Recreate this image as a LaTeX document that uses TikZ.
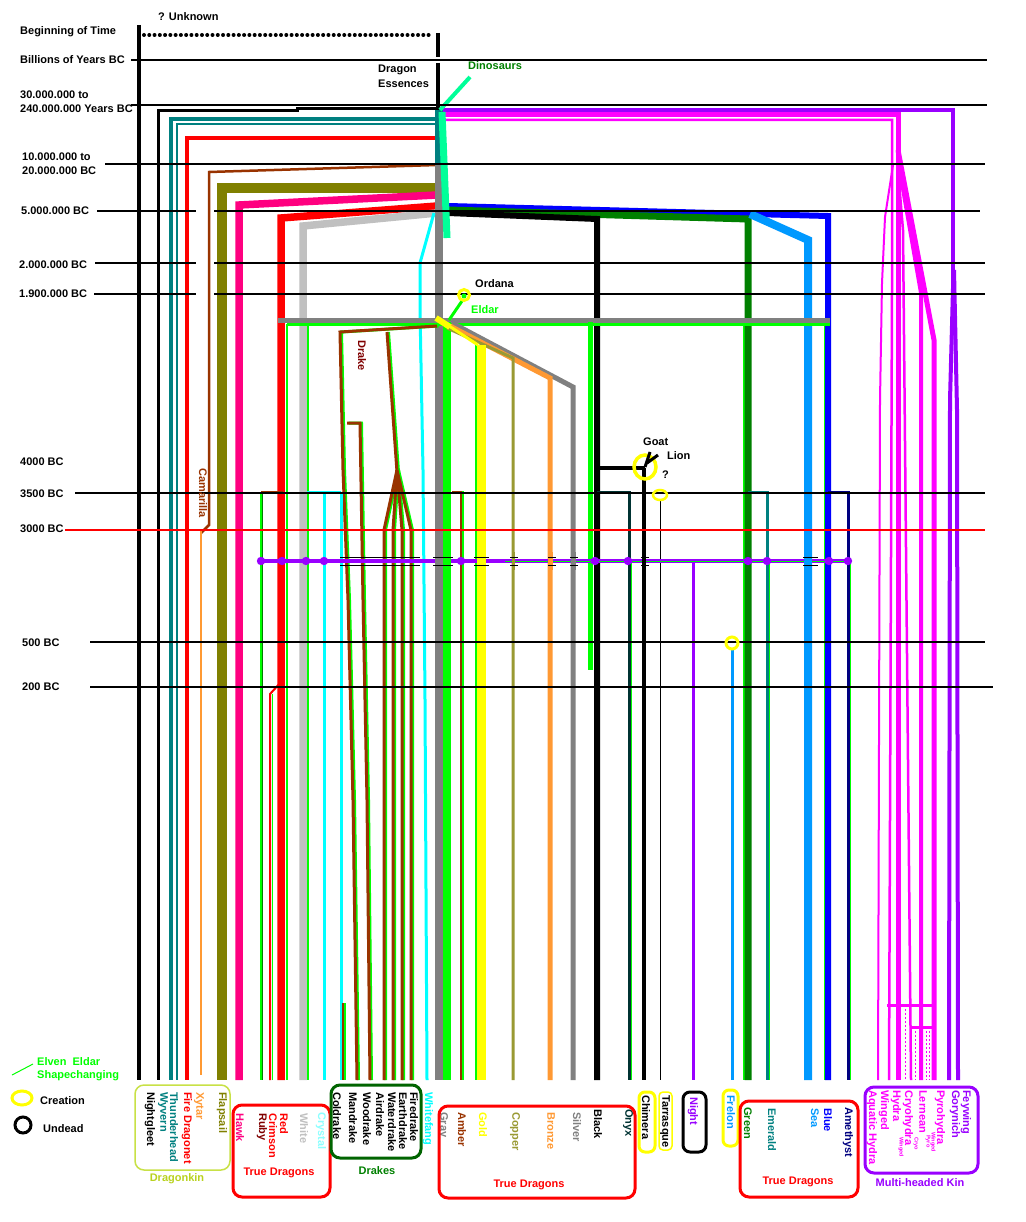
\documentclass[tikz,border=0pt]{standalone}
\usepackage{fontspec}
\setmainfont{Liberation Sans}
\definecolor{cTeal}{RGB}{0,128,128}
\definecolor{cRed}{RGB}{255,0,0}
\definecolor{cBrown}{RGB}{153,51,0}
\definecolor{cMaroon}{RGB}{128,0,0}
\definecolor{cOlive}{RGB}{128,128,0}
\definecolor{cPink}{RGB}{255,0,128}
\definecolor{cSilver}{RGB}{192,192,192}
\definecolor{cCyan}{RGB}{0,255,255}
\definecolor{cLCyan}{RGB}{140,255,255}
\definecolor{cGray}{RGB}{128,128,128}
\definecolor{cLime}{RGB}{0,255,0}
\definecolor{cDino}{RGB}{0,255,153}
\definecolor{cBlue}{RGB}{0,0,255}
\definecolor{cDkGreen}{RGB}{0,128,0}
\definecolor{cDrk}{RGB}{0,100,0}
\definecolor{cSky}{RGB}{0,153,255}
\definecolor{cYellow}{RGB}{255,255,0}
\definecolor{cCopper}{RGB}{153,153,51}
\definecolor{cOrange}{RGB}{255,153,51}
\definecolor{cOnyx}{RGB}{0,51,51}
\definecolor{cNavy}{RGB}{0,0,128}
\definecolor{cPurple}{RGB}{153,0,255}
\definecolor{cMagenta}{RGB}{255,0,255}
\definecolor{cKin}{RGB}{185,210,30}
\definecolor{cKinBox}{RGB}{200,225,70}
\tikzset{
 lbl/.style={font=\fontsize{11}{13}\selectfont\bfseries, inner sep=0pt, anchor=west},
 vlbl/.style={font=\fontsize{11}{13}\selectfont\bfseries, inner sep=0pt, anchor=west, rotate=-90},
 smalllbl/.style={font=\fontsize{5.5}{6}\selectfont\bfseries, inner sep=0pt, anchor=west, rotate=-90, text=cMagenta},
 timeline/.style={line width=1.1pt, black},
 tickmark/.style={line width=1pt, black},
 drk/.style={draw=cBrown, line width=3pt, preaction={draw=cLime, line width=3pt, transform canvas={xshift=1.5pt}}},
 grpbox/.style={rounded corners=9pt, line width=3pt},
 ttl/.style={font=\fontsize{11}{13}\selectfont\bfseries, inner sep=0pt},
}
\begin{document}
\begin{tikzpicture}[x=1pt,y=-1pt]
\useasboundingbox (0,0) rectangle (1025,1222);
\fill[white] (0,0) rectangle (1025,1222);

% shapechanging (lime) lines underneath
\draw[cLime,line width=2.5pt] (287,324) -- (287,1080);
\draw[cLime,line width=2pt] (308,324) -- (308,1080);
\draw[cDkGreen,line width=3pt] (261,492) -- (261,1080);
\draw[cLime,line width=1.2pt] (261,492) -- (261,1080);
\draw[cLime,line width=2pt] (744,324) -- (744,1080);
\draw[cLime,line width=2pt] (825,324) -- (825,1080);
\draw[cLime,line width=1.5pt] (476,345) -- (476,1080);
\draw[cLime,line width=1.5pt] (631,561) -- (631,1080);
\draw[cLime,line width=1.5pt] (769,561) -- (769,1080);
\draw[cLime,line width=1.5pt] (850,561) -- (850,1080);

% left branches
\draw[black,line width=4pt] (139,25) -- (139,1080);
\draw[black,line width=4pt,dash pattern=on 0pt off 5.27pt,line cap=round] (144,35) -- (433,35);
\draw[black,line width=3.5pt] (438,33) -- (438,57) (438,63) -- (438,110);
\draw[black,line width=3pt] (437,109) -- (297,109) -- (297,111) -- (158,111) -- (158,1080);
\draw[cTeal,line width=4.5pt] (437,119) -- (171,119) -- (171,1080);
\draw[cTeal,line width=2.5pt] (437,124) -- (177,124) -- (177,1080);
\draw[cRed,line width=3.5pt] (437,138) -- (187,138) -- (187,1080);
\draw[cBrown,line width=2.5pt] (437,165) -- (209,172) -- (209,525) -- (201,533);
\draw[cOrange,line width=2.5pt] (201,530) -- (201,1075);
\draw[cOlive,line width=9.5pt] (437,188) -- (222,188) -- (222,1080);
\draw[cPink,line width=7.5pt] (437,195) -- (239,205) -- (239,1080);
\draw[cRed,line width=7.5pt] (437,206) -- (281,218) -- (281,1080);
\draw[cRed,line width=2pt] (282,681) -- (270,694) -- (270,1080);
\draw[cLime,line width=1pt] (272,694) -- (272,1080);
\draw[cSilver,line width=7.5pt] (437,213) -- (303,226) -- (303,1080);

% right branches
\draw[cBlue,line width=6pt] (448,206) -- (828,216) -- (828,1080);
\draw[cDkGreen,line width=7pt] (448,210) -- (748,219) -- (748,1080);
\draw[black,line width=6pt] (448,213) -- (597,219) -- (597,1080);
\draw[cSky,line width=8pt] (750,214) -- (808,240) -- (808,1080);

\draw[cPurple,line width=4pt] (440,110) -- (953,110) -- (953,292);
\draw[cPurple,line width=4pt] (953,288) -- (950,400) -- (949,1080);
\draw[cPurple,line width=4pt] (954,270) -- (957,410) -- (958,1080);
\draw[cMagenta,line width=5pt] (442,115) -- (898,115) -- (898,1080);
\draw[cMagenta,line width=2.5pt] (442,120) -- (892,120) -- (892,290) -- (889,1080);
\draw[cMagenta,line width=5pt] (898,150) -- (934,340) -- (934,1080);
\draw[cMagenta,line width=4pt] (898,160) -- (921,293) -- (921,1080);
\draw[cMagenta,line width=2.5pt] (898,170) -- (903,230) -- (911,1080);
\draw[cMagenta,line width=2pt] (893,165) -- (885,217) -- (882,283) -- (880,400) -- (878,1080);
\draw[cMagenta,line width=3pt] (887,1005) -- (933,1005);
\draw[cMagenta,line width=3pt] (912,1027) -- (932,1027);
\draw[cMagenta,line width=1pt,dash pattern=on 2pt off 2pt] (905,1005) -- (905,1080) (915,1027) -- (915,1080) (926,1027) -- (926,1080) (929,1027) -- (929,1080);

% trunk
\draw[cTeal,line width=8pt] (439,110) -- (439,165);
\draw[cGray,line width=8pt] (439,165) -- (439,1080);
\draw[cDino,line width=4pt] (440,110) -- (470,77);
\draw[cDino,line width=7pt] (442,112) -- (447,238);
\draw[cCyan,line width=3pt] (434,213) -- (420,263) -- (420,310) -- (423,470) -- (425,700) -- (427,1080);

% Eldar
\draw[cGray,line width=5pt] (278,320) -- (830,320);
\draw[cLime,line width=3pt] (287,324) -- (830,324);
\draw[cLime,line width=8pt] (447,322) -- (447,1080);
\draw[cLime,line width=5pt] (590,322) -- (590,670);
\draw[cGray,line width=5pt] (452,323) -- (573,387) -- (573,1080);
\draw[cOrange,line width=5pt] (450,326) -- (550,378) -- (550,1080);
\draw[cCopper,line width=3pt] (447,328) -- (513,358) -- (513,1080);
\draw[cYellow,line width=3pt] (440,320) -- (478,345);
\draw[cYellow,line width=9pt] (481,345) -- (481,1080);
\draw[cYellow,line width=6pt] (436,318) -- (450,327);

% drakes
\draw[drk] (437,326) -- (340,332) -- (343,470) -- (348,600) -- (353,800) -- (357,1080);
\draw[drk] (387,332) -- (397,472);
\draw[drk] (347,423) -- (360,423) -- (363,600) -- (367,800) -- (370,1080);
\foreach \xx in {384,393,402,411} {\draw[drk] (397,470) -- (\xx,530) -- (\xx,1080);}
\draw[drk,line width=2pt] (452,492) -- (461,492) -- (461,1080);

% 3500 BC connectors
\draw[cBrown,line width=1.5pt] (283,492) -- (261,492);
\draw[cCyan,line width=3pt] (307,492) -- (341,492) (324,492) -- (324,1080) (341,492) -- (341,1080);
\draw[drk,line width=2.5pt] (343,1003) -- (343,1080);
\draw[cOnyx,line width=3pt] (597,492) -- (629,492) -- (629,1080);
\draw[cTeal,line width=3pt] (748,492) -- (767,492) -- (767,1080);
\draw[cNavy,line width=3pt] (828,492) -- (848,492) -- (848,1080);

% chimera, tarrasque, night, frelon
\draw[black,line width=4pt] (597,468) -- (645,468);
\draw[black,line width=3.5pt] (644,468) -- (644,1080);
\draw[black,line width=1pt] (660,500) -- (660,1080);
\draw[cPurple,line width=3pt] (693,561) -- (693,1080);
\draw[cSky,line width=3pt] (732,649) -- (732,1080);

% undead line
\draw[cPurple,line width=4pt] (258,561) -- (851,561);
\draw[cLime,line width=1pt] (505,561) -- (851,561);
\foreach \xx in {261,282,306,324,461,595,628,748,767,829,848} {\fill[cPurple] (\xx,561) circle (4.2pt);}
\draw[cGray,line width=8pt] (439,552) -- (439,570);
\draw[cLime,line width=8pt] (447,552) -- (447,570);
\draw[cYellow,line width=9pt] (481,552) -- (481,570);
\draw[cCopper,line width=3pt] (513,552) -- (513,570);
\draw[cOrange,line width=5pt] (550,552) -- (550,570);
\draw[cGray,line width=5pt] (573,552) -- (573,570);
\draw[black,line width=3.5pt] (644,552) -- (644,570);
\draw[cSky,line width=8pt] (808,552) -- (808,570);
\foreach \a/\b in {340/420,433/453,474/489,510/518,548/556,570/578,641/649,803/818}
 {\draw[tickmark] (\a,557) -- (\b,557) (\a,565) -- (\b,565);}

% time lines
\draw[timeline] (131,60) -- (987,60);
\draw[timeline] (131,105) -- (987,105);
\draw[timeline] (105,164) -- (985,164);
\draw[timeline] (97,211) -- (196,211) (214,211) -- (980,211);
\draw[timeline] (95,263) -- (196,263) (214,263) -- (985,263);
\draw[timeline] (94,294) -- (196,294) (214,294) -- (985,294);
\draw[timeline] (75,493) -- (985,493);
\draw[cRed,line width=1.1pt] (65,530) -- (985,530);
\draw[timeline] (90,642) -- (985,642);
\draw[timeline] (90,687) -- (993,687);

% creation / undead marks
\draw[cYellow,line width=3.5pt] (645,467) ellipse (11pt and 12pt);
\draw[black,line width=3pt] (645,467) -- (650,452) (647,463) -- (658,455);
\draw[cYellow,line width=2.5pt] (660,495) ellipse (7pt and 5pt);
\draw[cYellow,line width=3pt] (732,643) circle (6pt);
\draw[cLime,line width=3pt] (462,301) -- (449,320);
\draw[cYellow,line width=3pt] (464,295) circle (5.5pt);
\fill[cLime] (464,296) circle (2.5pt);

% left time labels
\node[lbl] (tBeg) at (20,32) {Beginning of Time};
\node[lbl] (tUnk) at (158,17) {? Unknown};
\node[lbl] (tBil) at (20,60) {Billions of Years BC};
\node[lbl] (t30a) at (20,95) {30.000.000 to};
\node[lbl] (t30b) at (20,109) {240.000.000 Years BC};
\node[lbl] (t10a) at (22,157) {10.000.000 to};
\node[lbl] (t10b) at (22,171) {20.000.000 BC};
\node[lbl] (t5m) at (21,211) {5.000.000 BC};
\node[lbl] (t2m) at (19,265) {2.000.000 BC};
\node[lbl] (t19m) at (19,294) {1.900.000 BC};
\node[lbl] (t4000) at (20,462) {4000 BC};
\node[lbl] (t3500) at (20,494) {3500 BC};
\node[lbl] (t3000) at (20,529) {3000 BC};
\node[lbl] (t500) at (22,643) {500 BC};
\node[lbl] (t200) at (22,687) {200 BC};

% inner labels
\node[lbl] (lDrA) at (378,70) {Dragon};
\node[lbl] (lDrB) at (378,84) {Essences};
\node[lbl,text=cDkGreen] (lDino) at (468,66) {Dinosaurs};
\node[lbl] (lOrd) at (475,284) {Ordana};
\node[lbl,text=cLime] (lEld) at (471,310) {Eldar};
\node[lbl] (lGoat) at (643,442) {Goat};
\node[lbl] (lLion) at (667,456) {Lion};
\node[lbl] (lQ) at (662,475) {?};
\node[vlbl,text=cMaroon] (lDrake) at (362,340) {Drake};
\node[vlbl,text=cBrown] (lCam) at (203,468) {Camarilla};

% bottom labels
\node[vlbl] (bNig) at (150,1092) {Nightgleet};
\node[vlbl,text=cTeal] (bWyv) at (163,1092) {Wyvern};
\node[vlbl,text=cTeal] (bThu) at (174,1092) {Thunderhead};
\node[vlbl,text=cRed] (bFir) at (187,1092) {Fire Dragonet};
\node[vlbl,text=cOrange] (bXyt) at (199,1092) {Xytar};
\node[vlbl,text=cOlive] (bFla) at (222,1092) {Flapsail};
\node[vlbl,text=cPink] (bHaw) at (240,1113) {Hawk};
\node[vlbl,text=cMaroon] (bRub) at (262,1113) {Ruby};
\node[vlbl,text=cRed] (bCri) at (273,1113) {Crimson};
\node[vlbl,text=cRed] (bRed) at (284,1113) {Red};
\node[vlbl,text=cSilver] (bWhi) at (304,1113) {White};
\node[vlbl,text=cLCyan] (bCry) at (321,1112) {Crystal};
\node[vlbl] (bCol) at (337,1092) {Coldrake};
\node[vlbl] (bMan) at (353,1092) {Mandrake};
\node[vlbl] (bWoo) at (367,1092) {Woodrake};
\node[vlbl] (bAir) at (380,1092) {Airdrake};
\node[vlbl] (bWat) at (392,1092) {Waterdrake};
\node[vlbl] (bEar) at (403,1092) {Earthdrake};
\node[vlbl] (bFid) at (414,1092) {Firedrake};
\node[vlbl,text=cCyan] (bWhf) at (428,1092) {Whitefang};
\node[vlbl,text=cGray] (bGra) at (443,1112) {Gray};
\node[vlbl,text=cBrown] (bAmb) at (462,1112) {Amber};
\node[vlbl,text=cYellow] (bGol) at (483,1112) {Gold};
\node[vlbl,text=cCopper] (bCop) at (515,1112) {Copper};
\node[vlbl,text=cOrange] (bBro) at (551,1112) {Bronze};
\node[vlbl,text=cGray] (bSil) at (577,1112) {Silver};
\node[vlbl] (bBla) at (598,1109) {Black};
\node[vlbl,text=cOnyx] (bOny) at (628,1109) {Onyx};
\node[vlbl] (bChi) at (646,1095) {Chimera};
\node[vlbl] (bTar) at (665,1095) {Tarrasque};
\node[vlbl,text=cPurple] (bNit) at (693,1097) {Night};
\node[vlbl,text=cSky] (bFre) at (731,1095) {Frelon};
\node[vlbl,text=cDkGreen] (bGre) at (748,1107) {Green};
\node[vlbl,text=cTeal] (bEme) at (772,1108) {Emerald};
\node[vlbl,text=cSky] (bSea) at (815,1108) {Sea};
\node[vlbl,text=cBlue] (bBlu) at (828,1108) {Blue};
\node[vlbl,text=cNavy] (bAme) at (848,1107) {Amethyst};
\node[vlbl,text=cMagenta] (bAqu) at (872,1090) {Aquatic Hydra};
\node[vlbl,text=cMagenta] (bWin) at (884,1090) {Winged};
\node[vlbl,text=cMagenta] (bHyd) at (896,1090) {Hydra};
\node[smalllbl] (sWin1) at (901,1137) {Winged};
\node[vlbl,text=cMagenta] (bCry2) at (908,1090) {Cryohydra};
\node[smalllbl] (sCry) at (916,1137) {Cryo};
\node[vlbl,text=cMagenta] (bLer) at (923,1090) {Lernean};
\node[smalllbl] (sPyr) at (928,1135) {Pyro};
\node[smalllbl] (sWin2) at (933,1132) {Winged};
\node[vlbl,text=cMagenta] (bPyr) at (940,1090) {Pyrohydra};
\node[vlbl,text=cPurple] (bGor) at (955,1090) {Gorynich};
\node[vlbl,text=cPurple] (bFey) at (966,1090) {Feywing};

% group boxes
\draw[cKinBox,line width=1.5pt,rounded corners=9pt] (135,1085) rectangle (230,1170);
\node[ttl,text=cKin] (gKin) at (177,1179) {Dragonkin};
\draw[grpbox,cRed] (233,1105) rectangle (330,1197);
\node[ttl,text=cRed] (gTD1) at (279,1173) {True Dragons};
\draw[grpbox,cDrk] (331,1085) rectangle (421,1158);
\node[ttl,text=cDkGreen] (gDrk) at (377,1171) {Drakes};
\draw[grpbox,cRed] (439,1106) rectangle (635,1198);
\node[ttl,text=cRed] (gTD2) at (529,1185) {True Dragons};
\draw[grpbox,cYellow,rounded corners=6pt] (639,1092) rectangle (655,1152);
\draw[cYellow,line width=1.5pt,rounded corners=4pt] (659,1092) rectangle (672,1150);
\draw[grpbox,black,rounded corners=7pt] (683,1092) rectangle (706,1152);
\draw[grpbox,cYellow,rounded corners=6pt] (723,1090) rectangle (738,1146);
\draw[grpbox,cRed] (740,1101) rectangle (858,1197);
\node[ttl,text=cRed] (gTD3) at (798,1182) {True Dragons};
\draw[grpbox,cPurple] (865,1087) rectangle (978,1173);
\node[ttl,text=cPurple] (gMHK) at (920,1183) {Multi-headed Kin};

% legend
\draw[cLime,line width=1pt] (12,1075) -- (33,1064);
\node[lbl,text=cLime] (lgE1) at (37,1062) {Elven\ \ Eldar};
\node[lbl,text=cLime] (lgE2) at (37,1076) {Shapechanging};
\draw[cYellow,line width=3pt] (22,1098) ellipse (10pt and 7pt);
\node[lbl] (lgC) at (40,1101) {Creation};
\draw[black,line width=3pt] (23,1125) circle (8pt);
\node[lbl] (lgU) at (43,1129) {Undead};
\end{tikzpicture}
\end{document}
